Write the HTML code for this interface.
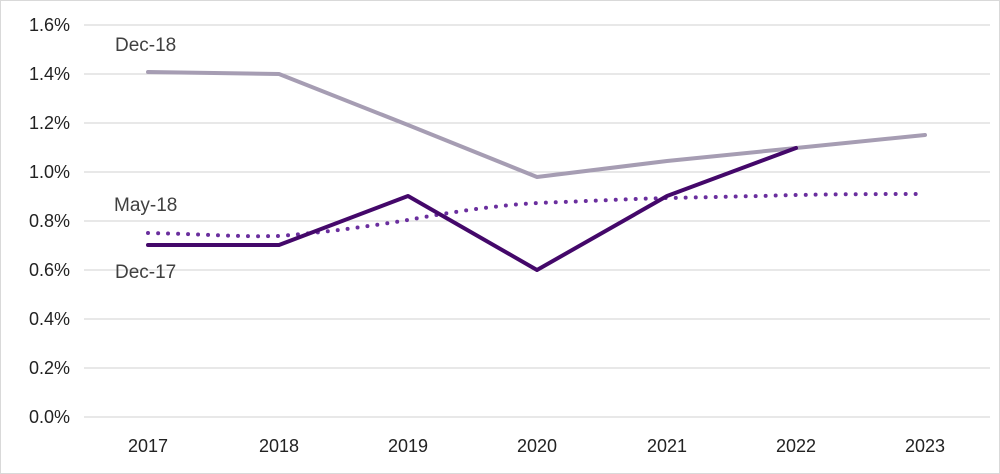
<!DOCTYPE html>
<html><head><style>
html,body{margin:0;padding:0;background:#fff}
svg{display:block}
text{font-family:"Liberation Sans",Arial,sans-serif}
</style></head><body>
<svg width="1000" height="474" viewBox="0 0 1000 474" xmlns="http://www.w3.org/2000/svg">
<rect x="0.5" y="0.5" width="999" height="473" fill="#fff" stroke="#d9d9d9"/>
<g stroke="#d9d9d9" stroke-width="1.3">
<line x1="84" x2="990" y1="25" y2="25"/><line x1="84" x2="990" y1="74" y2="74"/>
<line x1="84" x2="990" y1="123" y2="123"/><line x1="84" x2="990" y1="172" y2="172"/>
<line x1="84" x2="990" y1="221" y2="221"/><line x1="84" x2="990" y1="270" y2="270"/>
<line x1="84" x2="990" y1="319" y2="319"/><line x1="84" x2="990" y1="368" y2="368"/>
<line x1="84" x2="990" y1="417" y2="417"/>
</g>
<g font-size="18" fill="#222" text-anchor="end">
<text x="70" y="31">1.6%</text><text x="70" y="80">1.4%</text><text x="70" y="129">1.2%</text>
<text x="70" y="178">1.0%</text><text x="70" y="227">0.8%</text><text x="70" y="276">0.6%</text>
<text x="70" y="325">0.4%</text><text x="70" y="374">0.2%</text><text x="70" y="423">0.0%</text>
</g>
<g font-size="18" fill="#222" text-anchor="middle">
<text x="148" y="452">2017</text><text x="279" y="452">2018</text><text x="408" y="452">2019</text>
<text x="537" y="452">2020</text><text x="667" y="452">2021</text><text x="796" y="452">2022</text>
<text x="925" y="452">2023</text>
</g>
<polyline fill="none" stroke="#A69DB3" stroke-width="4" stroke-linejoin="round" stroke-linecap="round"
 points="148,72 279,74 408,125 537,177 667,161 796,148 925,135"/>
<path fill="none" stroke="#6A2E9E" stroke-width="4" stroke-linecap="round" stroke-dasharray="0 10"
 d="M148,233 C200,234 240,237 279,236 C330,232 370,226 408,220 C450,212 500,205 537,203 C590,201 630,199 667,198 C720,197 760,196 796,195 C850,194 890,194 925,194"/>
<polyline fill="none" stroke="#44086A" stroke-width="4" stroke-linejoin="round" stroke-linecap="round"
 points="148,245 279,245 408,196 537,270 667,196 796,148"/>
<g font-size="19" fill="#404040">
<text x="115" y="51">Dec-18</text>
<text x="114" y="211">May-18</text>
<text x="115" y="278">Dec-17</text>
</g>
</svg>
</body></html>
